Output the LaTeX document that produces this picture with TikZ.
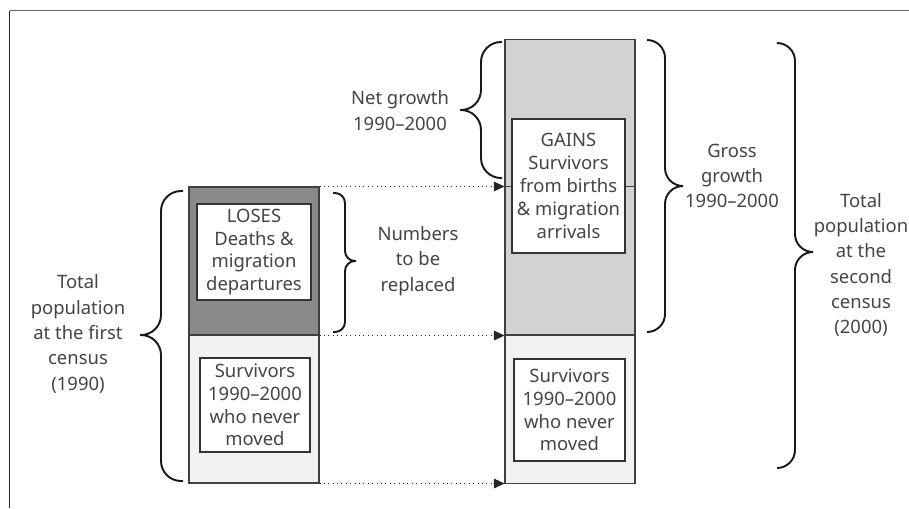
\documentclass[tikz,border=0pt]{standalone}
\usepackage{fontspec}
\setmainfont{Noto Sans}
\usepackage{xcolor}
\usetikzlibrary{arrows.meta, positioning, calc}
\definecolor{ink}{HTML}{444444}
\definecolor{losegray}{HTML}{8A8A8A}
\definecolor{gaingray}{HTML}{D1D2D4}
\definecolor{staygray}{HTML}{F1F2F3}
\definecolor{framegray}{HTML}{6B6B6B}
\tikzstyle{column} = [rectangle, minimum width=2.6cm, minimum height=2.96cm,
                      draw=black!75, line width=0.6pt, inner sep=0pt]
\tikzstyle{box} = [rectangle, draw=black!80, fill=white, line width=0.6pt, inner sep=0pt,
                   align=center, text=ink, font=\fontsize{10.5}{13}\selectfont]
\tikzstyle{lbl} = [align=center, text=ink, inner sep=0pt, font=\fontsize{10.5}{14.4}\selectfont]
\tikzstyle{brace} = [line width=1.1pt, black!90]
\tikzstyle{arrow} = [-{Triangle[length=6pt, width=5.5pt]}, line width=0.5pt, dotted, black!85]

\begin{document}
\begin{tikzpicture}[x=0.02cm, y=-0.02cm]
    \useasboundingbox (0,0) rectangle (909,508);

    % Frame
    \draw[framegray, line width=1.1pt] (909,10.5) -- (9.5,10.5);
    \draw[black!85, line width=1.1pt] (9.5,10.5) -- (9.5,508);

    % First census column
    \node[column, fill=losegray] (lose) at (254,261) {};
    \node[column, fill=staygray] (stay1) at (254,409) {};
    \node[box, minimum width=2.28cm, minimum height=1.92cm] (losebox) at (254,252)
        {LOSES\\Deaths \&\\migration\\departures};
    \node[box, minimum width=2.2cm, minimum height=1.88cm] (staybox1) at (255,405)
        {Survivors\\1990--2000\\who never\\moved};

    % Second census column
    \node[column, fill=gaingray, minimum height=5.92cm] (gain) at (570,187) {};
    \node[column, fill=staygray] (stay2) at (570,409.5) {};
    \node[box, minimum width=2.26cm, minimum height=2.68cm] (gainbox) at (568.5,186)
        {GAINS\\Survivors\\from births\\\& migration\\arrivals};
    \node[box, minimum width=2.22cm, minimum height=2.04cm] (staybox2) at (569.5,410)
        {Survivors\\1990--2000\\who never\\moved};

    % Dotted links
    \draw[arrow] (lose.north east) -- (lose.north east -| gain.west);
    \draw[arrow] (lose.south east) -- (lose.south east -| gain.west);
    \draw[arrow] (stay1.south east) -- (stay1.south east -| stay2.west);
    \draw[black!75, line width=0.6pt] (lose.north east -| gain.west) -- (lose.north east -| gainbox.west);
    \draw[black!75, line width=0.6pt] (lose.north east -| gainbox.east) -- (lose.north east -| gain.east);

    % Braces
    \draw[brace, rounded corners=0.4cm] (183,191) -- (161,191) -- (161,335) -- (140,335)
        (183,481) -- (161,481) -- (161,335) -- (140,335);
    \draw[brace, rounded corners=0.2cm] (333,193) -- (345,193) -- (345,261) -- (356,261)
        (333,332) -- (345,332) -- (345,261) -- (356,261);
    \draw[brace, rounded corners=0.4cm] (502,42) -- (481,42) -- (481,110) -- (460,110)
        (502,178) -- (481,178) -- (481,110) -- (460,110);
    \draw[brace, rounded corners=0.36cm] (647,40) -- (665,40) -- (665,186) -- (683,186)
        (647,332) -- (665,332) -- (665,186) -- (683,186);
    \draw[brace, rounded corners=0.36cm] (777,43) -- (795,43) -- (795,252) -- (813,252)
        (777,468) -- (795,468) -- (795,252) -- (813,252);

    % Labels
    \node[lbl] (first) at (78,334) {Total\\population\\at the first\\census\\(1990)};
    \node[lbl] (replace) at (418,261) {Numbers\\to be\\replaced};
    \node[lbl] (net) at (400,110.5) {Net growth\\1990--2000};
    \node[lbl] (gross) at (732,176) {Gross\\growth\\1990--2000};
    \node[lbl] (second) at (861,265) {Total\\population\\at the\\second\\census\\(2000)};
\end{tikzpicture}
\end{document}
